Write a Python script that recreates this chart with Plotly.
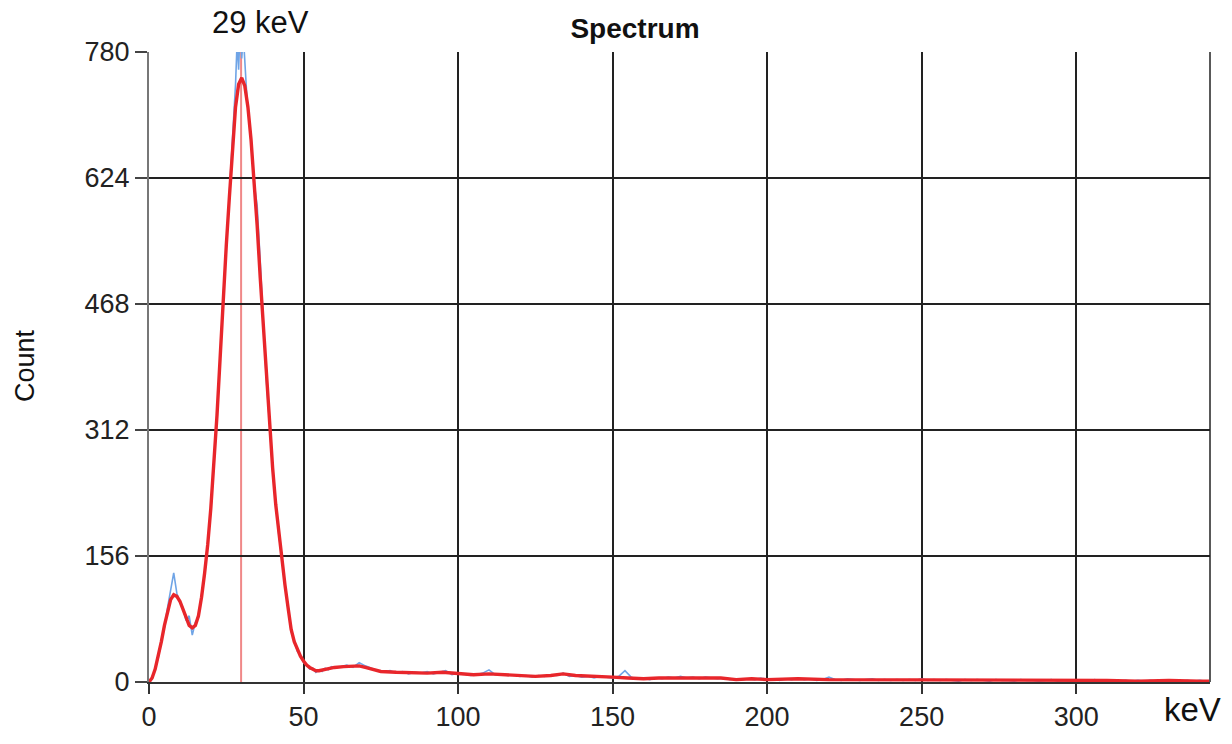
import plotly.graph_objects as go

# ---- data ----
smooth_kev = [0, 1, 2, 3, 4, 5, 6, 7, 8, 9, 10, 11, 12, 13, 14, 15, 16, 17, 18, 19,
              20, 21, 22, 23, 24, 25, 26, 27, 28, 29, 30, 31, 32, 33, 34, 35, 36, 37, 38, 39,
              40, 41, 42, 43, 44, 45, 46, 47, 48, 49, 50, 51, 52, 53, 54, 55, 56, 58, 60, 63,
              66, 68, 70, 72, 75, 80, 85, 90, 95, 100, 105, 110, 115, 120, 125, 130, 134, 138, 142, 146,
              150, 155, 160, 165, 170, 175, 180, 185, 190, 195, 200, 210, 220, 230, 240, 250, 260, 270, 280, 290,
              300, 310, 320, 330, 340, 343]
smooth_count = [0, 5, 16, 32, 50, 70, 88, 102, 108, 106, 100, 90, 78, 70, 67, 70, 82, 105, 135, 170,
                215, 270, 330, 400, 475, 540, 600, 660, 712, 740, 748, 738, 712, 672, 622, 565, 500, 440, 375, 318,
                265, 220, 185, 152, 120, 92, 65, 50, 40, 32, 26, 21, 18, 16, 14, 14, 15, 16, 18, 19,
                20, 20, 18, 16, 13, 12, 11, 11, 12, 10, 9, 10, 9, 8, 7, 8, 10, 8, 7, 6,
                6, 5, 4, 5, 5, 6, 5, 5, 3, 4, 3, 4, 3, 3, 2, 3, 2, 3, 2, 2,
                2, 2, 1, 2, 1, 1]

raw_kev = (list(range(0, 27))
           + [27, 27.5, 28, 28.5, 29, 29.5, 30, 30.5, 31, 31.5, 32]
           + list(range(33, 61))
           + list(range(62, 343, 2)))
raw_count = ([0, 4, 17, 30, 52, 68, 92, 115, 135, 110, 98, 92, 76, 82, 58, 74, 80, 108, 132, 172,
              212, 272, 328, 398, 478, 536, 604]
             + [664, 692, 740, 792, 758, 812, 772, 802, 760, 736, 708]
             + [676, 618, 590, 520, 442, 372, 320,
                262, 222, 182, 154, 118, 94, 62, 52, 38, 33, 24, 22, 16, 17, 12, 15, 13, 17, 15, 19, 17]
             + [19, 21, 18, 24, 20, 17, 14, 13, 14, 11, 13, 10, 12, 11, 13, 10, 12, 14, 9, 11,
                10, 8, 9, 11, 15, 9, 10, 8, 9, 7, 8, 6, 8, 7, 9, 8, 11, 7, 8, 6,
                7, 5, 7, 6, 5, 7, 14, 6, 4, 5, 3, 5, 4, 6, 5, 7, 5, 6, 4, 6,
                5, 4, 5, 3, 4, 3, 4, 3, 5, 3, 4, 2, 4, 3, 5, 3, 4, 2, 3, 6,
                3, 2, 4, 3, 2, 3, 4, 2, 3, 2, 3, 2, 3, 2, 4, 2, 3, 2, 3, 2,
                1, 3, 2, 3, 2, 1, 3, 2, 2, 1, 3, 2, 2, 1, 2, 3, 1, 2, 2, 1,
                2, 1, 3, 1, 2, 2, 1, 2, 1, 2, 1, 2, 1, 2, 1, 2, 1, 2, 1, 2, 1])

peak_kev = 29.8
peak_label = "29 keV"
y_ticks = [0, 156, 312, 468, 624, 780]
x_ticks = [0, 50, 100, 150, 200, 250, 300]

FONT = "Liberation Sans, Arial, sans-serif"

# plot-area geometry in pixels (for paper-coordinate conversion of text positions)
L, R, T, B, W, H = 149, 22, 52, 54, 1232, 744
PW, PH = W - L - R, H - T - B


def py(px_y):
    return (H - B - px_y) / PH


def px(px_x):
    return (px_x - L) / PW


fig = go.Figure()
fig.add_trace(go.Scatter(x=raw_kev, y=raw_count, mode="lines",
                         line=dict(color="#6fa4e6", width=1.6), hoverinfo="skip"))
fig.add_trace(go.Scatter(x=smooth_kev, y=smooth_count, mode="lines",
                         line=dict(color="#e8262b", width=3.4)))
fig.add_vline(x=peak_kev, line=dict(color="#f08888", width=2), layer="below")

fig.update_layout(
    width=W, height=H,
    margin=dict(l=L, r=R, t=T, b=B),
    paper_bgcolor="white", plot_bgcolor="white",
    showlegend=False,
    font=dict(family=FONT, color="#222222"),
    title=dict(text="<b>Spectrum</b>", x=635 / W, xanchor="center",
               y=1 - 28 / H, yanchor="middle", font=dict(size=28, color="#111111")),
    xaxis=dict(range=[0, 343.3], tickvals=x_ticks, ticks="outside", ticklen=10,
               tickcolor="#333333", tickwidth=1.5,
               showgrid=True, gridcolor="#222222", gridwidth=1.5,
               showline=True, linecolor="#333333", linewidth=1.5,
               zeroline=False, tickfont=dict(size=27, color="#222222"), mirror=False),
    yaxis=dict(range=[0, 780], tickvals=y_ticks, ticks="outside", ticklen=12,
               tickcolor="#444444", tickwidth=1.5,
               showgrid=True, gridcolor="#222222", gridwidth=1.5,
               showline=True, linecolor="#777777", linewidth=2,
               zeroline=False, tickfont=dict(size=27, color="#222222")),
    annotations=[
        dict(x=peak_kev, xref="x", y=py(22), yref="paper", xanchor="center", yanchor="middle",
             xshift=19, text=peak_label, showarrow=False, font=dict(size=31, color="#111111")),
        dict(x=px(1192), xref="paper", y=py(718), yref="paper", xanchor="center", yanchor="middle",
             text="keV", showarrow=False, font=dict(size=33, color="#111111")),
        dict(x=px(25), xref="paper", y=py(370), yref="paper", xanchor="center", yanchor="middle",
             text="Count", textangle=-90, showarrow=False, font=dict(size=27, color="#111111")),
    ],
    shapes=[
        dict(type="line", xref="paper", yref="paper", x0=0, x1=1, y0=1, y1=1,
             line=dict(color="#888888", width=2.5)),
        dict(type="line", xref="paper", yref="paper", x0=1, x1=1, y0=0, y1=1,
             line=dict(color="#222222", width=1.5)),
    ],
)

fig.write_html("out.html")
